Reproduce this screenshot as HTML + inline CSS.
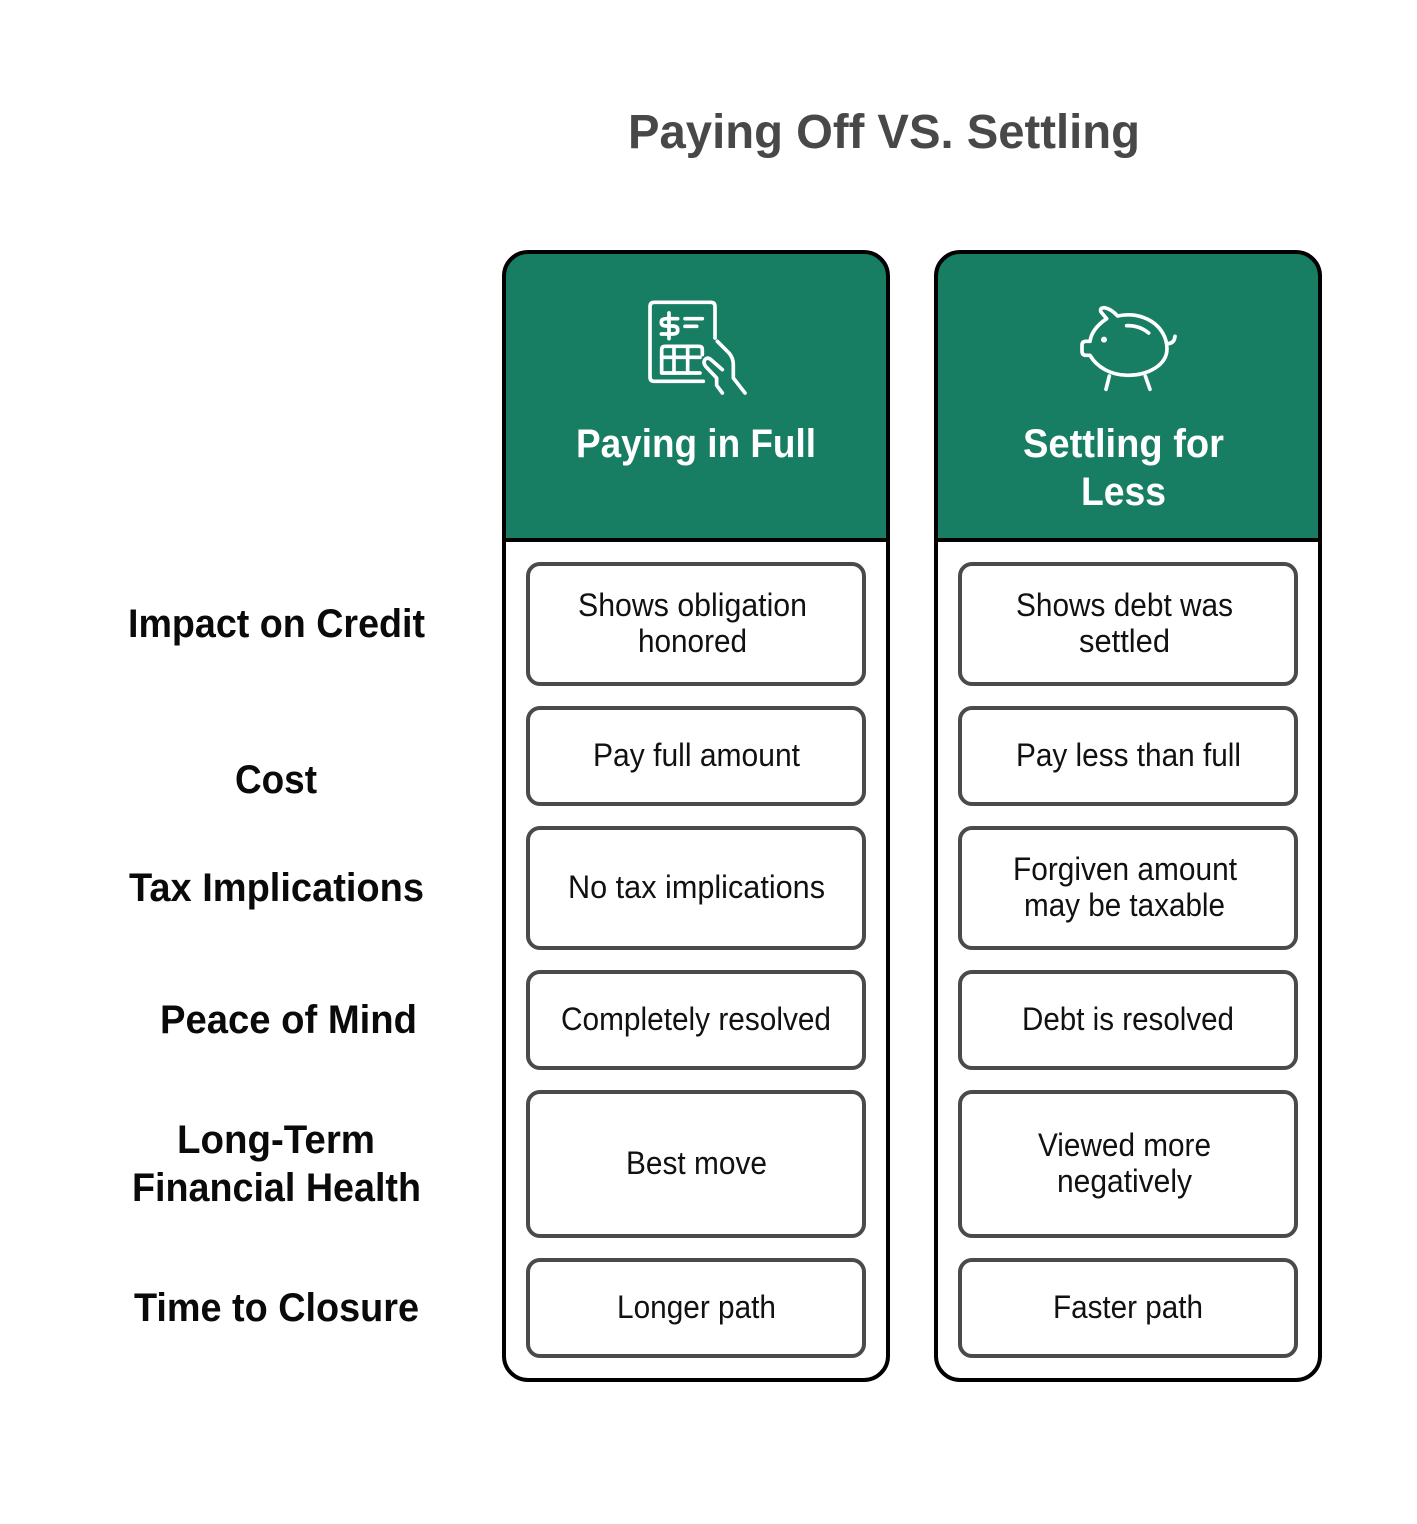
<!DOCTYPE html>
<html><head><meta charset="utf-8"><style>
html,body{margin:0;padding:0;background:#fff}
svg{display:block}
text{font-family:"Liberation Sans",sans-serif}
.b{font-size:32px;fill:#111}
.l{font-size:40px;font-weight:700;fill:#0a0a0a}
.h{font-size:40px;font-weight:700;fill:#fff}
</style></head><body>
<svg width="1417" height="1524" viewBox="0 0 1417 1524" xmlns="http://www.w3.org/2000/svg">
<rect width="1417" height="1524" fill="#fff"/>
<text x="628" y="148" font-size="48" font-weight="700" fill="#484848" textLength="512" lengthAdjust="spacingAndGlyphs">Paying Off VS. Settling</text>

<path d="M504 540V276a24 24 0 0 1 24-24H864a24 24 0 0 1 24 24V540Z" fill="#177e63"/>
<path d="M936 540V276a24 24 0 0 1 24-24H1296a24 24 0 0 1 24 24V540Z" fill="#177e63"/>
<g fill="none" stroke="#000" stroke-width="4">
<rect x="504" y="252" width="384" height="1128" rx="24"/>
<rect x="936" y="252" width="384" height="1128" rx="24"/>
<path d="M504 540H888M936 540H1320"/>
</g>
<g fill="#fff" stroke="#4a4a4a" stroke-width="4">
<rect x="528" y="564" width="336" height="120" rx="12"/>
<rect x="528" y="708" width="336" height="96" rx="12"/>
<rect x="528" y="828" width="336" height="120" rx="12"/>
<rect x="528" y="972" width="336" height="96" rx="12"/>
<rect x="528" y="1092" width="336" height="144" rx="12"/>
<rect x="528" y="1260" width="336" height="96" rx="12"/>
<rect x="960" y="564" width="336" height="120" rx="12"/>
<rect x="960" y="708" width="336" height="96" rx="12"/>
<rect x="960" y="828" width="336" height="120" rx="12"/>
<rect x="960" y="972" width="336" height="96" rx="12"/>
<rect x="960" y="1092" width="336" height="144" rx="12"/>
<rect x="960" y="1260" width="336" height="96" rx="12"/>
</g>

<g transform="translate(645 298) scale(.3333)" fill="none" stroke="#fff" stroke-width="11" stroke-linecap="round" stroke-linejoin="round">
<path d="M175 250H28Q15 250 15 237V26Q15 13 28 13H197Q210 13 210 26V120"/>
<path d="M98 62H65Q49 62 49 72V74Q49 84 65 84H82Q98 84 98 95V98Q98 108 82 108H49M72 45V122"/>
<path d="M120 62H172M120 85H155"/>
<path d="M165 225H50V155Q50 145 60 145H162Q172 145 172 155V170"/>
<path d="M50 178H165M87 145V225M128 145V225"/>
<path d="M217 130L252 165Q265 180 265 200V240L300 285"/>
<path d="M232 215L197 184Q186 176 179 186 174 194 182 205L215 240V262L232 285"/>
</g>
<g transform="translate(1076 302) scale(.3333)" fill="none" stroke="#fff" stroke-width="11" stroke-linecap="round" stroke-linejoin="round">
<path d="M125 42C200 25 272 70 273 140 273 190 215 220 155 220 105 220 62 195 42 160H30Q18 160 18 147V130Q18 118 30 118H42C46 90 65 68 92 50L75 30Q70 17 85 17 105 20 125 42Z"/>
<path d="M152 71C178 70 200 78 218 93"/>
<path d="M273 125Q295 125 297 103"/>
<path d="M100 222L90 262M208 222L222 262"/>
<circle cx="84" cy="113" r="4" stroke-width="10" fill="#fff"/>
</g>

<text class="h" x="576" y="457" textLength="240" lengthAdjust="spacingAndGlyphs">Paying in Full</text>
<text class="h" x="1023" y="457" textLength="201" lengthAdjust="spacingAndGlyphs">Settling for</text>
<text class="h" x="1081" y="505" textLength="85" lengthAdjust="spacingAndGlyphs">Less</text>

<text class="l" x="128" y="637" textLength="297" lengthAdjust="spacingAndGlyphs">Impact on Credit</text>
<text class="l" x="235" y="793" textLength="82" lengthAdjust="spacingAndGlyphs">Cost</text>
<text class="l" x="129" y="901" textLength="295" lengthAdjust="spacingAndGlyphs">Tax Implications</text>
<text class="l" x="160" y="1033" textLength="257" lengthAdjust="spacingAndGlyphs">Peace of Mind</text>
<text class="l" x="177" y="1153" textLength="198" lengthAdjust="spacingAndGlyphs">Long-Term</text>
<text class="l" x="132" y="1201" textLength="289" lengthAdjust="spacingAndGlyphs">Financial Health</text>
<text class="l" x="134" y="1321" textLength="285" lengthAdjust="spacingAndGlyphs">Time to Closure</text>

<text class="b" x="578" y="616" textLength="229" lengthAdjust="spacingAndGlyphs">Shows obligation</text>
<text class="b" x="638" y="652" textLength="109" lengthAdjust="spacingAndGlyphs">honored</text>
<text class="b" x="593" y="766" textLength="207" lengthAdjust="spacingAndGlyphs">Pay full amount</text>
<text class="b" x="568" y="898" textLength="257" lengthAdjust="spacingAndGlyphs">No tax implications</text>
<text class="b" x="561" y="1030" textLength="270" lengthAdjust="spacingAndGlyphs">Completely resolved</text>
<text class="b" x="626" y="1174" textLength="141" lengthAdjust="spacingAndGlyphs">Best move</text>
<text class="b" x="617" y="1318" textLength="159" lengthAdjust="spacingAndGlyphs">Longer path</text>

<text class="b" x="1016" y="616" textLength="217" lengthAdjust="spacingAndGlyphs">Shows debt was</text>
<text class="b" x="1079" y="652" textLength="91" lengthAdjust="spacingAndGlyphs">settled</text>
<text class="b" x="1016" y="766" textLength="225" lengthAdjust="spacingAndGlyphs">Pay less than full</text>
<text class="b" x="1013" y="880" textLength="224" lengthAdjust="spacingAndGlyphs">Forgiven amount</text>
<text class="b" x="1024" y="916" textLength="201" lengthAdjust="spacingAndGlyphs">may be taxable</text>
<text class="b" x="1022" y="1030" textLength="212" lengthAdjust="spacingAndGlyphs">Debt is resolved</text>
<text class="b" x="1038" y="1156" textLength="173" lengthAdjust="spacingAndGlyphs">Viewed more</text>
<text class="b" x="1057" y="1192" textLength="135" lengthAdjust="spacingAndGlyphs">negatively</text>
<text class="b" x="1053" y="1318" textLength="150" lengthAdjust="spacingAndGlyphs">Faster path</text>
</svg>
</body></html>
